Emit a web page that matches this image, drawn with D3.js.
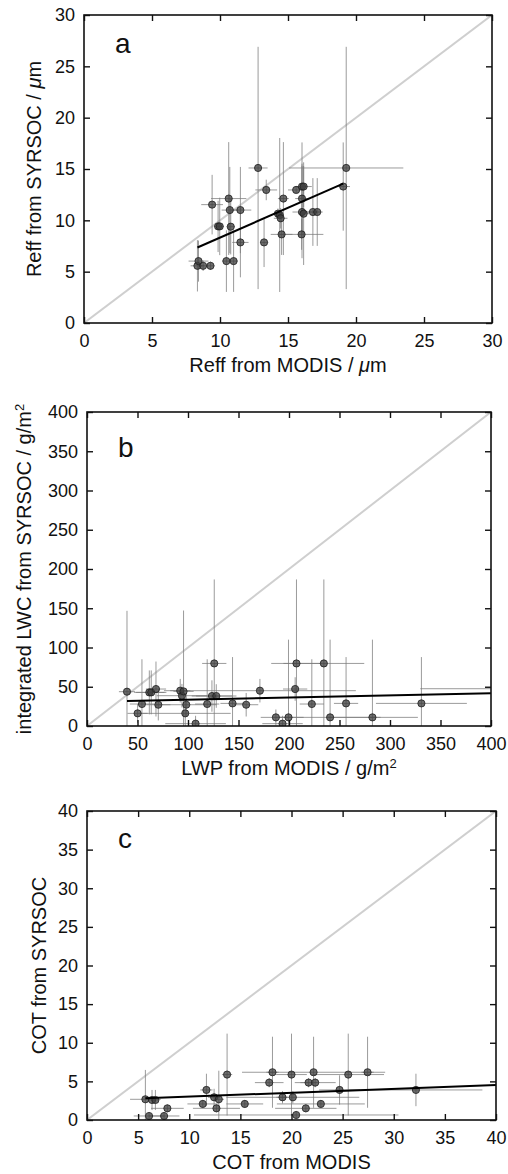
<!DOCTYPE html>
<html>
<head>
<meta charset="utf-8">
<style>
  body { margin: 0; background: #fff; }
  text { font-family: "Liberation Sans", Arial, sans-serif; fill: #111; }
</style>
<script src="https://cdn.jsdelivr.net/npm/d3@7/dist/d3.min.js"></script>
</head>
<body>
<div id="chart"></div>
<script>
// panel a: effective radius
const reffModis = [8.34, 8.42, 8.76, 9.3, 9.42, 9.86, 9.98, 10.47, 10.64, 10.72, 10.79, 11.0, 11.5, 11.5, 12.8, 13.24, 13.4, 14.26, 14.39, 14.46, 14.53, 14.66, 15.6, 16.03, 16.15, 16.03, 16.03, 16.15, 16.0, 16.83, 17.15, 19.06, 19.28];
const reffSyrsoc = [5.57, 6.03, 5.57, 5.57, 11.53, 9.41, 9.41, 6.03, 12.12, 11.0, 9.38, 6.03, 11.0, 7.85, 15.1, 7.85, 12.96, 10.65, 10.52, 10.2, 8.63, 12.12, 12.96, 13.29, 13.29, 12.12, 10.81, 10.65, 8.63, 10.81, 10.81, 13.29, 15.1];
const reffModisErr = [0.5, 0.73, 0.3, 0.3, 0.8, 0.3, 0.3, 0.3, 1.3, 0.6, 0.3, 0.3, 0.8, 0.6, 0.7, 0.3, 0.8, 0.3, 0.3, 0.5, 0.8, 0.4, 0.6, 0.4, 0.6, 0.5, 0.7, 0.4, 1.6, 0.5, 0.4, 0.5, 4.2];
const reffSyrsocErr = [2.5, 2.0, 0.5, 0.4, 2.9, 2.5, 2.8, 3.0, 5.5, 4.2, 2.7, 3.0, 4.2, 3.4, 11.8, 2.4, 1.0, 0.5, 7.5, 1.0, 2.0, 5.5, 0.3, 4.3, 2.0, 3.4, 4.5, 5.0, 1.5, 3.3, 3.3, 4.3, 11.8];
const reffFit = [0.58, 2.52];          // slope, intercept
const reffFitRange = [8.34, 19.06];
const reffTicks = [0, 5, 10, 15, 20, 25, 30];

// panel b: liquid water path
const lwpModis = [39.6, 50.1, 54.4, 61.7, 63.6, 68.3, 70.6, 92.3, 94.0, 95.6, 97.3, 98.3, 107.5, 119.0, 123.7, 126.0, 128.0, 144.1, 157.6, 171.2, 187.0, 193.6, 199.5, 206.1, 207.4, 222.6, 234.5, 240.7, 256.5, 282.6, 331.1, 440];
const lwcSyrsoc = [43.7, 16.1, 28.0, 42.8, 42.8, 47.1, 27.1, 45.0, 38.6, 44.1, 16.1, 27.1, 3.0, 28.0, 38.2, 79.7, 38.2, 28.8, 27.1, 45.0, 11.0, 3.0, 11.0, 47.1, 79.7, 28.0, 79.7, 11.0, 28.8, 11.0, 28.8, 47.5];
const lwpModisErr = [8, 10, 12, 15, 15, 10, 12, 10, 25, 10, 45, 30, 30, 12, 20, 12, 20, 12, 12, 95, 15, 20, 15, 12, 25, 12, 40, 50, 12, 45, 45, 110];
const lwcSyrsocErr = [103, 12, 57, 28, 28, 35, 20, 15, 15, 103, 20, 15, 10, 57, 20, 107, 15, 59, 15, 15, 10, 10, 99, 15, 107, 57, 107, 99, 59, 99, 59, 15];
const lwpFit = [0.0272, 30.7];
const lwpFitRange = [39.6, 400];
const lwpTicks = [0, 50, 100, 150, 200, 250, 300, 350, 400];

// panel c: cloud optical thickness
const cotModis = [5.71, 6.07, 6.36, 6.69, 7.54, 7.86, 11.32, 11.68, 12.43, 12.66, 12.89, 13.7, 15.43, 17.82, 18.14, 19.12, 20.0, 20.13, 20.46, 21.4, 21.67, 22.16, 22.32, 22.87, 24.7, 25.55, 27.44, 32.17];
const cotSyrsoc = [2.68, 0.52, 2.59, 2.59, 0.52, 1.51, 2.08, 3.89, 2.94, 1.51, 2.68, 5.88, 2.08, 4.84, 6.18, 2.94, 5.88, 2.94, 0.65, 1.51, 4.84, 6.18, 4.84, 2.08, 3.89, 5.88, 6.18, 3.89];
const cotModisErr = [1.5, 1.5, 0.3, 0.3, 1.5, 1.6, 1.5, 0.6, 0.6, 2.3, 0.5, 0.5, 1.8, 1.4, 0.6, 0.6, 1.5, 6.5, 10, 3, 0.8, 7, 2, 4.3, 2, 3.5, 0.6, 6.5];
const cotSyrsocErr = [3.8, 0.5, 1.3, 1.3, 0.5, 0.5, 0.5, 2.1, 1.1, 0.5, 3.7, 5.3, 0.5, 0.6, 4.6, 0.8, 5.3, 0.8, 0.5, 0.5, 0.6, 4.6, 0.6, 0.5, 1.9, 5.3, 4.6, 2.1];
const cotFit = [0.0505, 2.52];
const cotFitRange = [5.71, 40];
const cotTicks = [0, 5, 10, 15, 20, 25, 30, 35, 40];

const width = 508, height = 1174;
const svg = d3.select("#chart").append("svg")
  .attr("width", width)
  .attr("height", height);

const panels = [
  { id: "a", box: [84, 15, 492, 323], max: 30, ticks: reffTicks,
    xs: reffModis, ys: reffSyrsoc, xe: reffModisErr, ye: reffSyrsocErr,
    fit: reffFit, fitRange: reffFitRange, yLabX: 43, letterDy: 38,
    xLabel: ["Reff from MODIS / ", ["\u03bc", "it"], "m"],
    yLabel: ["Reff from SYRSOC / ", ["\u03bc", "it"], "m"] },
  { id: "b", box: [87, 412, 491, 726], max: 400, ticks: lwpTicks,
    xs: lwpModis, ys: lwcSyrsoc, xe: lwpModisErr, ye: lwcSyrsocErr,
    fit: lwpFit, fitRange: lwpFitRange, yLabX: 56, letterDy: 45,
    xLabel: ["LWP from MODIS / g/m", ["2", "sup"]],
    yLabel: ["integrated LWC from SYRSOC / g/m", ["2", "sup"]] },
  { id: "c", box: [87, 811, 496, 1120], max: 40, ticks: cotTicks,
    xs: cotModis, ys: cotSyrsoc, xe: cotModisErr, ye: cotSyrsocErr,
    fit: cotFit, fitRange: cotFitRange, yLabX: 41, letterDy: 37,
    xLabel: ["COT from MODIS"],
    yLabel: ["COT from SYRSOC"] }
];

// writes label parts into a text element (italic / superscript pieces)
function fillLabel(t, parts) {
  parts.forEach(p => {
    if (typeof p === "string") { t.append("tspan").text(p); return; }
    const s = t.append("tspan").text(p[0]);
    if (p[1] === "it") s.attr("font-style", "italic");
    if (p[1] === "sup") s.attr("font-size", 13).attr("baseline-shift", "super");
  });
}

panels.forEach(p => {
  const [x0, y0, x1, y1] = p.box;
  const x = d3.scaleLinear().domain([0, p.max]).range([x0, x1]);
  const y = d3.scaleLinear().domain([0, p.max]).range([y1, y0]);
  const g = svg.append("g");

  const clipId = "clip-" + p.id;
  svg.append("clipPath").attr("id", clipId).append("rect")
    .attr("x", x0).attr("y", y0).attr("width", x1 - x0).attr("height", y1 - y0);
  const plot = g.append("g").attr("clip-path", `url(#${clipId})`);

  // 1:1 line
  plot.append("line")
    .attr("x1", x(0)).attr("y1", y(0)).attr("x2", x(p.max)).attr("y2", y(p.max))
    .attr("stroke", "#cfcfcf").attr("stroke-width", 2);

  const idx = d3.range(p.xs.length);

  // error bars
  plot.selectAll(".ex").data(idx).enter().append("line")
    .attr("x1", i => x(p.xs[i] - p.xe[i])).attr("x2", i => x(p.xs[i] + p.xe[i]))
    .attr("y1", i => y(p.ys[i])).attr("y2", i => y(p.ys[i]))
    .attr("stroke", "#7a7a7a").attr("stroke-opacity", 0.75).attr("stroke-width", 1);
  plot.selectAll(".ey").data(idx).enter().append("line")
    .attr("x1", i => x(p.xs[i])).attr("x2", i => x(p.xs[i]))
    .attr("y1", i => y(p.ys[i] - p.ye[i])).attr("y2", i => y(p.ys[i] + p.ye[i]))
    .attr("stroke", "#7a7a7a").attr("stroke-opacity", 0.75).attr("stroke-width", 1);

  // points
  plot.selectAll("circle").data(idx).enter().append("circle")
    .attr("cx", i => x(p.xs[i])).attr("cy", i => y(p.ys[i]))
    .attr("r", 3.6)
    .attr("fill", "#3c3c3c").attr("fill-opacity", 0.75)
    .attr("stroke", "#1e1e1e").attr("stroke-width", 0.8);

  // regression line
  const [m, b] = p.fit;
  plot.append("line")
    .attr("x1", x(p.fitRange[0])).attr("y1", y(m * p.fitRange[0] + b))
    .attr("x2", x(p.fitRange[1])).attr("y2", y(m * p.fitRange[1] + b))
    .attr("stroke", "#000").attr("stroke-width", 2);

  // axes, ticks pointing inward on all sides
  const tickStyle = sel => {
    sel.select(".domain").remove();
    sel.selectAll(".tick line").attr("stroke", "#111").attr("stroke-width", 1.4);
    sel.selectAll("text").attr("font-size", 18).attr("fill", "#111")
      .attr("font-family", "Liberation Sans, Arial, sans-serif");
  };
  g.append("g").attr("transform", `translate(0,${y1})`)
    .call(d3.axisBottom(x).tickValues(p.ticks).tickFormat(d3.format("d"))
      .tickSizeInner(-6).tickSizeOuter(0).tickPadding(11))
    .call(tickStyle);
  g.append("g").attr("transform", `translate(${x0},0)`)
    .call(d3.axisLeft(y).tickValues(p.ticks).tickFormat(d3.format("d"))
      .tickSizeInner(-6).tickSizeOuter(0).tickPadding(9))
    .call(tickStyle);
  g.append("g").attr("transform", `translate(0,${y0})`)
    .call(d3.axisTop(x).tickValues(p.ticks).tickFormat("")
      .tickSizeInner(-6).tickSizeOuter(0))
    .call(tickStyle);
  g.append("g").attr("transform", `translate(${x1},0)`)
    .call(d3.axisRight(y).tickValues(p.ticks).tickFormat("")
      .tickSizeInner(-6).tickSizeOuter(0))
    .call(tickStyle);

  // frame
  g.append("rect")
    .attr("x", x0).attr("y", y0).attr("width", x1 - x0).attr("height", y1 - y0)
    .attr("fill", "none").attr("stroke", "#111").attr("stroke-width", 1.6);

  // panel letter
  g.append("text").attr("x", x0 + 31).attr("y", y0 + p.letterDy)
    .attr("font-size", 28).text(p.id);

  // axis labels
  const xl = g.append("text").attr("x", (x0 + x1) / 2).attr("y", y1 + 49)
    .attr("text-anchor", "middle").attr("font-size", 20);
  fillLabel(xl, p.xLabel);
  const yl = g.append("text")
    .attr("transform", `translate(${x0 - p.yLabX},${(y0 + y1) / 2}) rotate(-90)`)
    .attr("text-anchor", "middle").attr("font-size", 20);
  fillLabel(yl, p.yLabel);
});
</script>
</body>
</html>
